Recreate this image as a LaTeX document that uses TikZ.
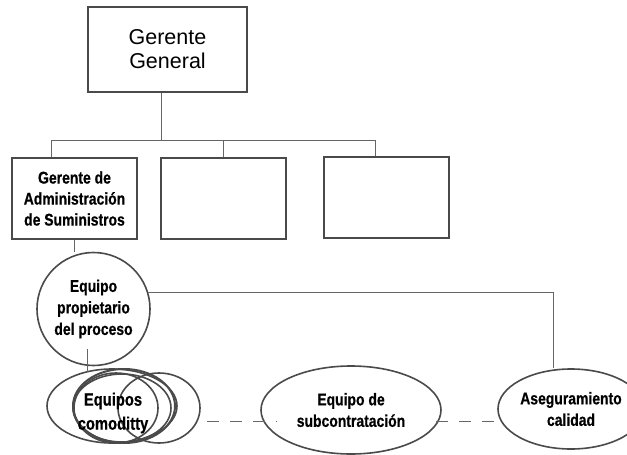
\documentclass[tikz,border=0pt]{standalone}
\usepackage{fontspec}
\setmainfont{Liberation Sans}
\newfontfamily\angosta[FakeStretch=0.82, BoldFeatures={FakeBold=0.6}]{Liberation Sans}
\usetikzlibrary{shapes.geometric}

\definecolor{trazo}{HTML}{4A4A4A}
\definecolor{enlace}{HTML}{666666}

\tikzset{
  caja/.style={draw=trazo, line width=2pt, rectangle, inner sep=0pt,
    minimum width=125pt, minimum height=81pt, align=center,
    font=\angosta\bfseries\fontsize{17}{21}\selectfont},
  burbuja/.style={draw=trazo, line width=1.6pt, align=center, inner sep=0pt,
    font=\angosta\bfseries\fontsize{17}{21.5}\selectfont},
  linea/.style={draw=enlace, line width=1pt},
  punteada/.style={draw=enlace, line width=1pt, dash pattern=on 12pt off 11pt}
}

\begin{document}
\begin{tikzpicture}[x=1pt,y=-1pt]
\useasboundingbox (0,0) rectangle (627,455);
\clip (0,0) rectangle (627,455);

% top of the chart
\node[caja, minimum width=159pt, minimum height=85pt,
  font=\fontsize{21.5}{24}\selectfont] (gg) at (167.5,49.5) {Gerente\\General};

% second level boxes
\node[caja] (gas) at (74.5,198.5) {Gerente de\\Administración\\de Suministros};
\node[caja] (caja2) at (223.5,198.5) {};
\node[caja] (caja3) at (386.5,197.5) {};

% bus between the levels
\coordinate (bus) at (161,140);
\coordinate (bajada1) at (51,140);
\coordinate (bajada3) at (375,140);
\draw[linea] (gg.south -| bus) -- (bus);
\draw[linea] (bajada1 |- gas.north) -- (bajada1) -- (bajada3) -- (bajada3 |- caja3.north);
\draw[linea] (caja2.north |- bus) -- (caja2.north);

% teams
\node[burbuja, circle, minimum size=113pt] (eqprop) at (93.5,309) {Equipo\\propietario\\del proceso};
\node[burbuja, ellipse, minimum width=180pt, minimum height=88pt] (subc) at (351,410) {Equipo de\\subcontratación};
\node[burbuja, ellipse, minimum width=146pt, minimum height=80pt] (aseg) at (571,409) {Aseguramiento\\calidad};

% commodity teams, a bunch of overlapping ellipses
\draw[trazo, line width=1.6pt] (112,406) ellipse [x radius=65pt, y radius=37pt];
\draw[trazo, line width=1.6pt] (159,408) ellipse [x radius=41pt, y radius=35pt];
\draw[trazo, line width=2pt] (124,406) ellipse [x radius=51pt, y radius=37pt];
\draw[trazo, line width=1.6pt] (122,408) ellipse [x radius=49pt, y radius=34pt];
\draw[trazo, line width=1.6pt] (116,408) ellipse [x radius=42pt, y radius=35pt];
\node[font=\angosta\bfseries\fontsize{18}{24}\selectfont, align=center, inner sep=0pt] (comm) at (113,413) {Equipos\\comoditty};

% links between the teams
\coordinate (commtop) at (87,372);
\coordinate (esquina) at (553,293);
\coordinate (commder) at (207,421);
\draw[linea] (gas.south) -- (gas.south |- eqprop.north);
\draw[linea] (commtop) -- ++(0,-23);
\draw[linea] (eqprop.17) -- (eqprop.17 -| esquina) -- (esquina |- aseg.north);
\draw[punteada] (commder) -- ([xshift=16pt]subc.west |- commder);
\draw[punteada] ([xshift=-6pt]subc.east |- commder) -- ([xshift=5pt]aseg.west |- commder);

\end{tikzpicture}
\end{document}
